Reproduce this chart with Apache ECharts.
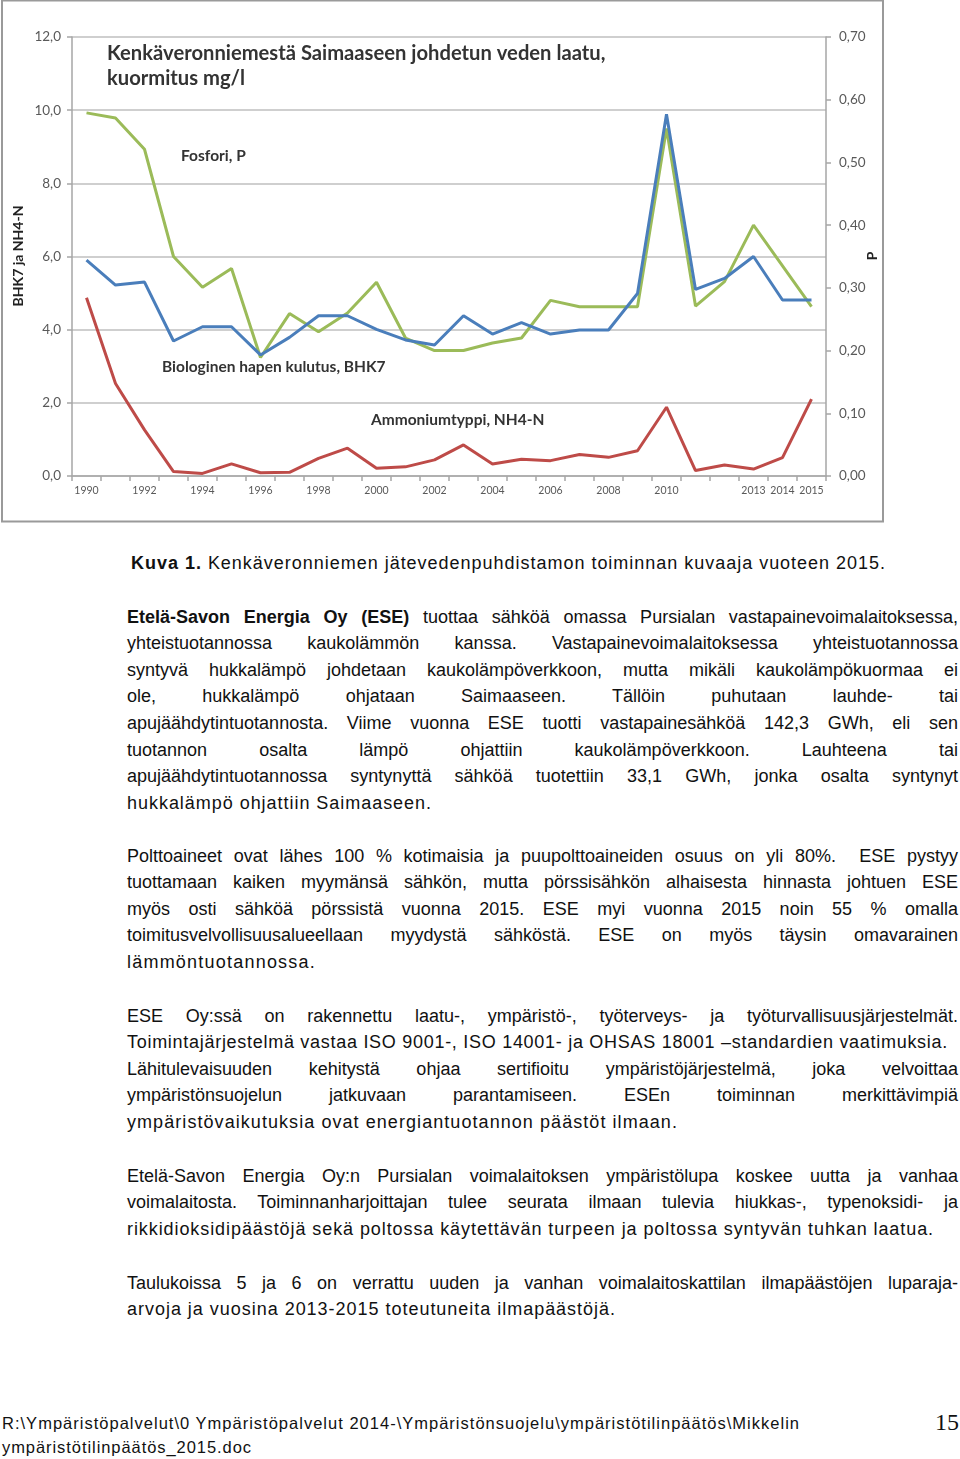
<!DOCTYPE html>
<html>
<head>
<meta charset="utf-8">
<script src="https://cdn.jsdelivr.net/npm/echarts@6/dist/echarts.min.js"></script>
<style>
html,body{margin:0;padding:0;background:#fff;}
#page{position:relative;width:960px;height:1459px;overflow:hidden;background:#fff;}
#chart{position:absolute;left:0;top:0;width:886px;height:524px;}
.txt{position:absolute;left:127px;width:900px;font-family:"Liberation Sans",Arial,sans-serif;font-size:18px;color:#111;line-height:26.6px;}
.txt div, .foot div{white-space:nowrap;}
.txt span.l, .foot span.l{display:inline-block;white-space:nowrap;}
.foot{position:absolute;left:2px;font-family:"Liberation Sans",Arial,sans-serif;font-size:16.5px;color:#111;line-height:24px;}
.pg{position:absolute;left:935px;top:1409px;font-family:"Liberation Serif",serif;font-size:24px;color:#111;}
</style>
</head>
<body>
<div id="page">
<div id="chart"></div>

<div class="txt" style="top:550px;left:131px;"><div><span class="l" data-w="755" data-m="ls"><b>Kuva 1.</b> Kenkäveronniemen jätevedenpuhdistamon toiminnan kuvaaja vuoteen 2015.</span></div></div>

<div class="txt" style="top:603.7px;">
<div><span class="l" data-w="831" data-m="ws"><b>Etelä-Savon Energia Oy (ESE)</b> tuottaa sähköä omassa Pursialan vastapainevoimalaitoksessa,</span></div>
<div><span class="l" data-w="831" data-m="ws">yhteistuotannossa kaukolämmön kanssa. Vastapainevoimalaitoksessa yhteistuotannossa</span></div>
<div><span class="l" data-w="831" data-m="ws">syntyvä hukkalämpö johdetaan kaukolämpöverkkoon, mutta mikäli kaukolämpökuormaa ei</span></div>
<div><span class="l" data-w="831" data-m="ws">ole, hukkalämpö ohjataan Saimaaseen. Tällöin puhutaan lauhde- tai</span></div>
<div><span class="l" data-w="831" data-m="ws">apujäähdytintuotannosta. Viime vuonna ESE tuotti vastapainesähköä 142,3 GWh, eli sen</span></div>
<div><span class="l" data-w="831" data-m="ws">tuotannon osalta lämpö ohjattiin kaukolämpöverkkoon. Lauhteena tai</span></div>
<div><span class="l" data-w="831" data-m="ws">apujäähdytintuotannossa syntynyttä sähköä tuotettiin 33,1 GWh, jonka osalta syntynyt</span></div>
<div><span class="l" data-w="305" data-m="ls">hukkalämpö ohjattiin Saimaaseen.</span></div>
</div>

<div class="txt" style="top:842.7px;">
<div><span class="l" data-w="831" data-m="ws">Polttoaineet ovat lähes 100 % kotimaisia ja puupolttoaineiden osuus on yli 80%.&nbsp; ESE pystyy</span></div>
<div><span class="l" data-w="831" data-m="ws">tuottamaan kaiken myymänsä sähkön, mutta pörssisähkön alhaisesta hinnasta johtuen ESE</span></div>
<div><span class="l" data-w="831" data-m="ws">myös osti sähköä pörssistä vuonna 2015. ESE myi vuonna 2015 noin 55 % omalla</span></div>
<div><span class="l" data-w="831" data-m="ws">toimitusvelvollisuusalueellaan myydystä sähköstä. ESE on myös täysin omavarainen</span></div>
<div><span class="l" data-w="189" data-m="ls">lämmöntuotannossa.</span></div>
</div>

<div class="txt" style="top:1002.7px;">
<div><span class="l" data-w="831" data-m="ws">ESE Oy:ssä on rakennettu laatu-, ympäristö-, työterveys- ja työturvallisuusjärjestelmät.</span></div>
<div><span class="l" data-w="821" data-m="ls">Toimintajärjestelmä vastaa ISO 9001-, ISO 14001- ja OHSAS 18001 –standardien vaatimuksia.</span></div>
<div><span class="l" data-w="831" data-m="ws">Lähitulevaisuuden kehitystä ohjaa sertifioitu ympäristöjärjestelmä, joka velvoittaa</span></div>
<div><span class="l" data-w="831" data-m="ws">ympäristönsuojelun jatkuvaan parantamiseen. ESEn toiminnan merkittävimpiä</span></div>
<div><span class="l" data-w="551" data-m="ls">ympäristövaikutuksia ovat energiantuotannon päästöt ilmaan.</span></div>
</div>

<div class="txt" style="top:1162.7px;">
<div><span class="l" data-w="831" data-m="ws">Etelä-Savon Energia Oy:n Pursialan voimalaitoksen ympäristölupa koskee uutta ja vanhaa</span></div>
<div><span class="l" data-w="831" data-m="ws">voimalaitosta. Toiminnanharjoittajan tulee seurata ilmaan tulevia hiukkas-, typenoksidi- ja</span></div>
<div><span class="l" data-w="807" data-m="ls">rikkidioksidipäästöjä sekä poltossa käytettävän turpeen ja poltossa syntyvän tuhkan laatua.</span></div>
</div>

<div class="txt" style="top:1269.7px;">
<div><span class="l" data-w="831" data-m="ws">Taulukoissa 5 ja 6 on verrattu uuden ja vanhan voimalaitoskattilan ilmapäästöjen luparaja-</span></div>
<div><span class="l" data-w="489" data-m="ls">arvoja ja vuosina 2013-2015 toteutuneita ilmapäästöjä.</span></div>
</div>

<div class="foot" style="top:1411px;">
<div><span class="l" data-w="798" data-m="ls">R:\Ympäristöpalvelut\0 Ympäristöpalvelut 2014-\Ympäristönsuojelu\ympäristötilinpäätös\Mikkelin</span></div>
<div><span class="l" data-w="250" data-m="ls">ympäristötilinpäätös_2015.doc</span></div>
</div>
<div class="pg">15</div>
</div>

<script>
// ---- data ----
var years = ["1990","1991","1992","1993","1994","1995","1996","1997","1998","1999","2000","2001","2002","2003","2004","2005","2006","2007","2008","2009","2010","2011","2012","2013","2014","2015"];
var shownYearLabels = ["1990","1992","1994","1996","1998","2000","2002","2004","2006","2008","2010","2013","2014","2015"];
var bhk7 = [5.90,5.22,5.30,3.69,4.08,4.08,3.31,3.79,4.38,4.38,4.01,3.72,3.58,4.38,3.88,4.19,3.88,3.99,3.99,4.99,9.89,5.10,5.40,6.00,4.81,4.81];
var nh4n = [4.87,2.53,1.26,0.12,0.07,0.33,0.09,0.10,0.48,0.76,0.21,0.25,0.44,0.85,0.33,0.46,0.42,0.59,0.51,0.69,1.88,0.15,0.30,0.19,0.50,2.10];
var fosfori = [0.579,0.571,0.521,0.350,0.301,0.331,0.189,0.259,0.230,0.260,0.309,0.220,0.200,0.200,0.212,0.220,0.280,0.270,0.270,0.270,0.554,0.271,0.310,0.400,0.335,0.270];
var titleLines = ["Kenkäveronniemestä Saimaaseen johdetun veden laatu,", "kuormitus mg/l"];
var seriesNames = ["Fosfori, P", "Biologinen hapen kulutus, BHK7", "Ammoniumtyppi, NH4-N"];
var leftAxisName = "BHK7 ja NH4-N";
var rightAxisName = "P";

// fit text lines to the widths they have on the page
document.querySelectorAll('span.l').forEach(function(s){
  var target = parseFloat(s.getAttribute('data-w'));
  var mode = s.getAttribute('data-m');
  var w = s.getBoundingClientRect().width;
  var txt = s.textContent;
  if (mode === 'ws') {
    var spaces = (txt.match(/[ \u00a0]/g) || []).length;
    if (spaces > 0) s.style.wordSpacing = ((target - w) / spaces) + 'px';
  } else {
    var n = txt.length;
    s.style.letterSpacing = ((target - w) / n) + 'px';
  }
});

var chart = echarts.init(document.getElementById('chart'), null, {renderer:'canvas'});
var F = 'Lato, "Open Sans", sans-serif';
var axisGray = '#a6a6a6';
var labelGray = '#595959';
function comma(v, d){ return v.toFixed(d).replace('.', ','); }

chart.setOption({
  animation:false,
  backgroundColor:'#fff',
  grid:{left:72, right:60, top:37, bottom:48, containLabel:false},
  xAxis:{
    type:'category', data:years, boundaryGap:true,
    axisLine:{lineStyle:{color:axisGray, width:1.5}},
    axisTick:{show:true, interval:0, length:5, lineStyle:{color:axisGray, width:1.5}},
    axisLabel:{interval:function(i, v){ return shownYearLabels.indexOf(v) >= 0; },
      fontFamily:F, fontSize:10.5, color:labelGray, margin:9}
  },
  yAxis:[{
    type:'value', min:0, max:12, interval:2, position:'left',
    axisLine:{show:true, lineStyle:{color:axisGray, width:1.5}},
    axisTick:{show:true, length:5, lineStyle:{color:axisGray, width:1.5}},
    splitLine:{show:true, lineStyle:{color:'#bfbfbf', width:1.5}},
    axisLabel:{formatter:function(v){return comma(v,1);}, fontFamily:F, fontSize:13.5, color:labelGray, margin:11}
  },{
    type:'value', min:0, max:0.7, interval:0.1, position:'right',
    axisLine:{show:true, lineStyle:{color:axisGray, width:1.5}},
    axisTick:{show:true, length:5, lineStyle:{color:axisGray, width:1.5}},
    splitLine:{show:false},
    axisLabel:{formatter:function(v){return comma(v,2);}, fontFamily:F, fontSize:13.5, color:labelGray, margin:13}
  }],
  series:[
    {name:seriesNames[0], type:'line', yAxisIndex:1, data:fosfori, showSymbol:false, symbol:'none',
      lineStyle:{color:'#9bbb59', width:3}, z:2},
    {name:seriesNames[1], type:'line', yAxisIndex:0, data:bhk7, showSymbol:false, symbol:'none',
      lineStyle:{color:'#4a7ebb', width:3}, z:3},
    {name:seriesNames[2], type:'line', yAxisIndex:0, data:nh4n, showSymbol:false, symbol:'none',
      lineStyle:{color:'#be4b48', width:3}, z:3}
  ],
  graphic:[
    {type:'rect', shape:{x:2, y:0.5, width:881, height:521}, style:{fill:'none', stroke:'#9a9a9a', lineWidth:2}, silent:true},
    {type:'text', x:107, y:53, style:{text:titleLines[0], fontFamily:F, fontWeight:'bold', fontSize:20.2, fill:'#333', textVerticalAlign:'middle'}},
    {type:'text', x:107, y:78, style:{text:titleLines[1], fontFamily:F, fontWeight:'bold', fontSize:20.2, fill:'#333', textVerticalAlign:'middle'}},
    {type:'text', x:181, y:156, style:{text:seriesNames[0], fontFamily:F, fontWeight:'bold', fontSize:15.5, fill:'#333', textVerticalAlign:'middle'}},
    {type:'text', x:162, y:367, style:{text:seriesNames[1], fontFamily:F, fontWeight:'bold', fontSize:15.5, fill:'#333', textVerticalAlign:'middle'}},
    {type:'text', x:371, y:420, style:{text:seriesNames[2], fontFamily:F, fontWeight:'bold', fontSize:15.5, fill:'#333', textVerticalAlign:'middle'}},
    {type:'text', x:18, y:256, rotation:Math.PI/2, style:{text:leftAxisName, fontFamily:F, fontWeight:'bold', fontSize:14, fill:'#222', textAlign:'center', textVerticalAlign:'middle'}},
    {type:'text', x:872, y:256, rotation:Math.PI/2, style:{text:rightAxisName, fontFamily:F, fontWeight:'bold', fontSize:14, fill:'#222', textAlign:'center', textVerticalAlign:'middle'}}
  ]
});
</script>
</body>
</html>
